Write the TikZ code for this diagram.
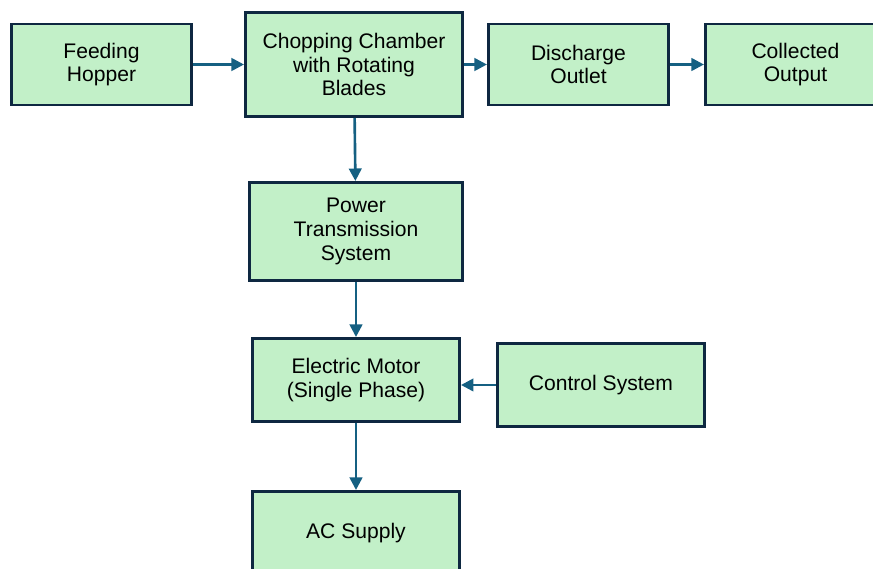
\documentclass[tikz,border=0pt]{standalone}
\usepackage{fontspec}
\setmainfont{Liberation Sans}
\usepackage{xcolor}
\usetikzlibrary{arrows.meta, positioning}

\definecolor{boxfill}{HTML}{C2F0C8}
\definecolor{boxline}{HTML}{0E2841}
\definecolor{arrowblue}{HTML}{156082}

\begin{document}
\begin{tikzpicture}[
    blockbox/.style={rectangle, draw=boxline, fill=boxfill, line width=1.7pt, minimum width=3.6cm, minimum height=1.62cm, text centered, align=center, font=\fontsize{12}{13.6}\selectfont},
    arrow/.style={-{Triangle[length=0.25cm, width=0.25cm]}, line width=1.5pt, draw=arrowblue},
]
\useasboundingbox (0,0) rectangle (17.46,11.36);
\clip (0,0) rectangle (17.46,11.36);

\node[blockbox] (hopper) at (2.03,10.07) {Feeding\\Hopper};
\node[blockbox, minimum width=4.34cm, minimum height=2.08cm, right=1.02cm of hopper] (chamber) {Chopping Chamber\\with Rotating\\Blades};
\node[blockbox, right=0.46cm of chamber] (outlet) {Discharge\\Outlet};
\node[blockbox, right=0.68cm of outlet] (output) {Collected\\Output};
\node[blockbox, minimum width=4.26cm, minimum height=1.96cm, below=1.26cm of chamber, xshift=0.04cm] (power) {Power\\Transmission\\System};
\node[blockbox, minimum width=4.14cm, minimum height=1.66cm, below=1.10cm of power] (motor) {Electric Motor\\(Single Phase)};
\node[blockbox, minimum width=4.14cm, minimum height=1.66cm, right=0.70cm of motor, yshift=-0.1cm] (control) {Control System};
\node[blockbox, minimum width=4.14cm, minimum height=1.66cm, below=1.34cm of motor] (ac) {AC Supply};

\draw[arrow] (hopper) -- (chamber);
\draw[arrow] (chamber) -- (outlet);
\draw[arrow] (outlet) -- (output);
\draw[arrow] (chamber) -- (power);
\draw[arrow] (power) -- (motor);
\draw[arrow] (control.west) -- (control.west -| motor.east);
\draw[arrow] (motor) -- (ac);
\end{tikzpicture}
\end{document}
